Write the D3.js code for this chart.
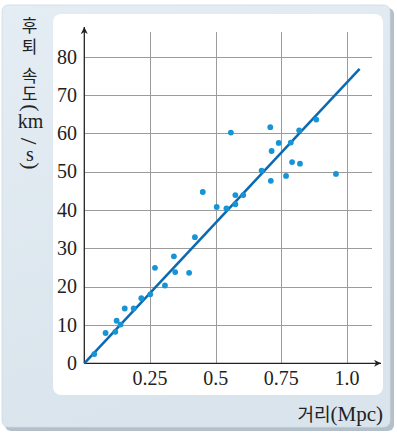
<!DOCTYPE html>
<html>
<head>
<meta charset="utf-8">
<script src="https://cdn.jsdelivr.net/npm/d3@7"></script>
<style>
  html, body { margin: 0; padding: 0; background: #ffffff; }
  svg { display: block; }
</style>
</head>
<body>
<script>
// Galaxy distance (Mpc) vs recession velocity
const distance = [0.038, 0.081, 0.118, 0.123, 0.138, 0.154, 0.188, 0.217, 0.251, 0.269,
                  0.307, 0.341, 0.346, 0.399, 0.421, 0.451, 0.504, 0.541, 0.558, 0.575,
                  0.575, 0.605, 0.675, 0.708, 0.710, 0.713, 0.740, 0.768, 0.786, 0.791,
                  0.818, 0.821, 0.883, 0.958];
const velocity = [2.4, 7.9, 8.2, 11.1, 10.1, 14.3, 14.3, 17.0, 18.0, 24.9,
                  20.3, 27.9, 23.8, 23.6, 32.9, 44.7, 40.8, 40.4, 60.2, 43.9,
                  41.5, 43.9, 50.3, 61.6, 47.6, 55.4, 57.5, 48.9, 57.6, 52.5,
                  60.8, 52.1, 63.6, 49.4];
// Fitted line endpoints
const fitX = [0, 1.048];
const fitY = [0, 76.8];
const xTicks = [0.25, 0.5, 0.75, 1.0];
const xTickLabels = ["0.25", "0.5", "0.75", "1.0"];
const yTicks = [0, 10, 20, 30, 40, 50, 60, 70, 80];

const W = 397, H = 435;
const svg = d3.select("body").append("svg").attr("width", W).attr("height", H);
const defs = svg.append("defs");

const grad = defs.append("linearGradient").attr("id", "bg")
  .attr("x1", 0).attr("y1", 0).attr("x2", 0.3).attr("y2", 1);
grad.append("stop").attr("offset", 0).attr("stop-color", "#e5edf4");
grad.append("stop").attr("offset", 1).attr("stop-color", "#d9e4ec");

// card with drop shadow
svg.append("rect").attr("x", 5).attr("y", 8).attr("width", 389).attr("height", 423)
  .attr("rx", 6).attr("fill", "#b4c0c9");
svg.append("rect").attr("x", 2).attr("y", 5).attr("width", 388).attr("height", 422)
  .attr("rx", 6).attr("fill", "url(#bg)").attr("stroke", "#d0dbe4").attr("stroke-width", 0.8);
// white plotting panel
svg.append("rect").attr("x", 53).attr("y", 14).attr("width", 330).attr("height", 381)
  .attr("rx", 8).attr("fill", "#ffffff");

const x0 = 84.3, y0 = 363.3;
const x = d3.scaleLinear().domain([0, 1]).range([x0, x0 + 262.7]);
const y = d3.scaleLinear().domain([0, 80]).range([y0, y0 - 306.6]);

const serif = "'Liberation Serif', 'DejaVu Serif', serif";
const sans = "'Noto Sans CJK KR', 'Noto Sans', sans-serif";

// grid
const grid = svg.append("g").attr("stroke", "#9c9c9c").attr("stroke-width", 1);
grid.selectAll("line.h").data(yTicks.filter(d => d > 0)).join("line")
  .attr("x1", x0).attr("x2", 372)
  .attr("y1", d => Math.round(y(d)) + 0.5).attr("y2", d => Math.round(y(d)) + 0.5);
grid.selectAll("line.v").data(xTicks).join("line")
  .attr("y1", 32).attr("y2", y0)
  .attr("x1", d => Math.round(x(d)) + 0.5).attr("x2", d => Math.round(x(d)) + 0.5);

// axes with arrowheads
defs.append("marker").attr("id", "arrow").attr("viewBox", "0 0 10 10")
  .attr("refX", 10).attr("refY", 5).attr("markerWidth", 8).attr("markerHeight", 7)
  .attr("markerUnits", "userSpaceOnUse").attr("orient", "auto")
  .append("path").attr("d", "M0,0 L10,5 L0,10 L3,5 Z").attr("fill", "#222");
svg.append("line").attr("x1", x0).attr("y1", y0).attr("x2", 381).attr("y2", y0)
  .attr("stroke", "#222").attr("stroke-width", 1.3).attr("marker-end", "url(#arrow)");
svg.append("line").attr("x1", x0).attr("y1", y0).attr("x2", x0).attr("y2", 27)
  .attr("stroke", "#222").attr("stroke-width", 1.3).attr("marker-end", "url(#arrow)");

// tick labels
svg.append("g").selectAll("text").data(yTicks).join("text")
  .attr("x", 77).attr("y", d => y(d)).attr("dy", "0.34em")
  .attr("text-anchor", "end").attr("font-family", serif).attr("font-size", 20)
  .attr("fill", "#222").text(d => d);
svg.append("g").selectAll("text").data(xTicks).join("text")
  .attr("x", d => x(d)).attr("y", 384.5)
  .attr("text-anchor", "middle").attr("font-family", serif).attr("font-size", 20)
  .attr("fill", "#222").text((d, i) => xTickLabels[i]);

// fitted line
svg.append("line")
  .attr("x1", x(fitX[0])).attr("y1", y(fitY[0]))
  .attr("x2", x(fitX[1])).attr("y2", y(fitY[1]))
  .attr("stroke", "#0b69b1").attr("stroke-width", 2.5);

// observations
svg.append("g").selectAll("circle").data(distance).join("circle")
  .attr("cx", d => x(d)).attr("cy", (d, i) => y(velocity[i]))
  .attr("r", 2.9).attr("fill", "#1694d5");

// y-axis title, written top to bottom
const yt = svg.append("g").attr("fill", "#222");
yt.append("text").attr("x", 29.5).attr("y", 17)
  .attr("writing-mode", "vertical-rl").style("letter-spacing", "4px")
  .attr("font-family", sans).attr("font-size", 17).text("후퇴");
yt.append("text").attr("x", 29.5).attr("y", 67)
  .attr("writing-mode", "vertical-rl").style("letter-spacing", "1px")
  .attr("font-family", sans).attr("font-size", 17).text("속도");
// parentheses and fraction bar turned sideways
[["(", 31, 108, 22], [")", 31, 166, 22], ["/", 29, 141, 24]].forEach(([c, cx, cy, fs]) => {
  yt.append("g").attr("transform", `translate(${cx},${cy}) rotate(90)`)
    .append("text").attr("x", 0).attr("y", 0)
    .attr("dominant-baseline", "central").attr("text-anchor", "middle")
    .attr("font-family", serif).attr("font-size", fs).text(c);
});
yt.append("text").attr("x", 30.5).attr("y", 128).attr("text-anchor", "middle")
  .attr("font-family", serif).attr("font-size", 20).text("km");
yt.append("text").attr("x", 30).attr("y", 161).attr("text-anchor", "middle")
  .attr("font-family", serif).attr("font-size", 20).text("s");

// x-axis title
const xt = svg.append("text").attr("x", 383).attr("y", 421).attr("text-anchor", "end")
  .attr("fill", "#222");
xt.append("tspan").attr("font-family", sans).attr("font-size", 18).text("거리");
xt.append("tspan").attr("font-family", serif).attr("font-size", 21).text("(Mpc)");
</script>
</body>
</html>
